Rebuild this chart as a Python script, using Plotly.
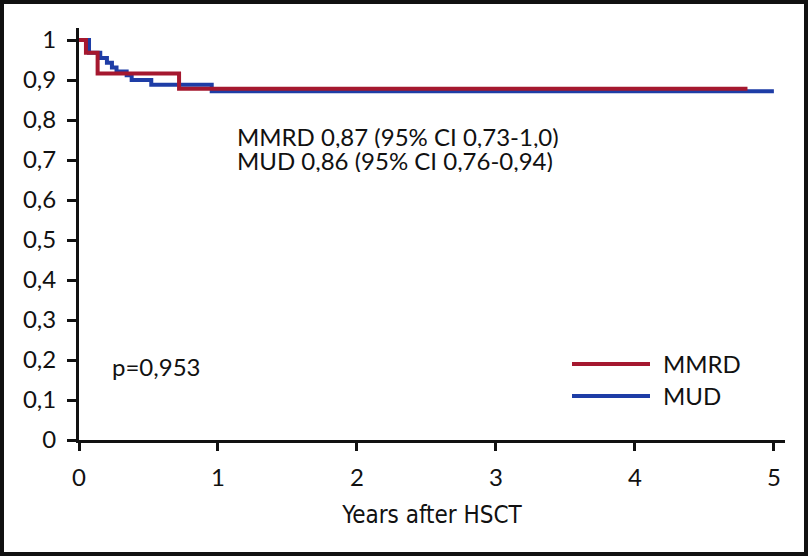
import plotly.graph_objects as go

# Kaplan-Meier style step data (years after HSCT, survival probability)
mmrd_years = [0, 0.05, 0.134, 0.72, 4.81]
mmrd_surv = [1.0, 0.968, 0.916, 0.878, 0.878]

mud_years = [0, 0.072, 0.153, 0.201, 0.237, 0.27, 0.343, 0.379, 0.52, 0.955, 5.0]
mud_surv = [1.0, 0.968, 0.955, 0.943, 0.931, 0.921, 0.912, 0.900, 0.888, 0.872, 0.872]

series_names = ["MMRD", "MUD"]
x_ticks = [0, 1, 2, 3, 4, 5]
y_ticks = [0, 0.1, 0.2, 0.3, 0.4, 0.5, 0.6, 0.7, 0.8, 0.9, 1.0]
y_ticktext = ["0", "0,1", "0,2", "0,3", "0,4", "0,5", "0,6", "0,7", "0,8", "0,9", "1"]
x_title = "Years after HSCT"
annot_lines = ["MMRD 0,87 (95% CI 0,73-1,0)", "MUD 0,86 (95% CI 0,76-0,94)"]
p_text = "p=0,953"

RED = "#A5182F"
BLUE = "#1E3DA6"
FONT = "Lato, Open Sans, sans-serif"
TXT = 24

W, H = 808, 556
ML, MR, MT, MB = 79, 23, 28, 116
PW, PH = W - ML - MR, H - MT - MB

fig = go.Figure()
fig.add_trace(go.Scatter(x=mud_years, y=mud_surv, mode="lines", line_shape="hv",
                         line=dict(color=BLUE, width=4), name=series_names[1], showlegend=False))
fig.add_trace(go.Scatter(x=mmrd_years, y=mmrd_surv, mode="lines", line_shape="hv",
                         line=dict(color=RED, width=4), name=series_names[0], showlegend=False))

def px2x(px):
    return (px - ML) / PW * 5.08

def py2y(py):
    return (H - MB - py) / PH * 1.03

anns = []
anns.append(dict(x=px2x(236), y=py2y(136), text=annot_lines[0], xanchor="left", yanchor="middle",
                 height=24, borderpad=0))
anns.append(dict(x=px2x(236), y=py2y(160), text=annot_lines[1], xanchor="left", yanchor="middle",
                 height=24, borderpad=0))
anns.append(dict(x=px2x(110), y=py2y(366), text=p_text, xanchor="left", yanchor="middle"))
anns.append(dict(x=px2x(661), y=py2y(363), text=series_names[0], xanchor="left", yanchor="middle"))
anns.append(dict(x=px2x(661), y=py2y(395), text=series_names[1], xanchor="left", yanchor="middle"))
for a in anns:
    a.update(xref="x", yref="y", showarrow=False, font=dict(family=FONT, size=TXT, color="#111"))

shapes = [
    dict(type="line", xref="x", yref="y", x0=px2x(572), x1=px2x(650), y0=py2y(364), y1=py2y(364),
         line=dict(color=RED, width=4)),
    dict(type="line", xref="x", yref="y", x0=px2x(572), x1=px2x(650), y0=py2y(396), y1=py2y(396),
         line=dict(color=BLUE, width=4)),
    dict(type="rect", xref="paper", yref="paper",
         x0=(2 - ML) / PW, x1=(806 - ML) / PW, y0=(H - MB - 554) / PH, y1=(H - MB - 2) / PH,
         line=dict(color="#111", width=4), fillcolor="rgba(0,0,0,0)", layer="above"),
]

fig.update_layout(
    width=W, height=H,
    margin=dict(l=ML, r=MR, t=MT, b=MB, pad=0, autoexpand=False),
    paper_bgcolor="white", plot_bgcolor="white",
    showlegend=False,
    annotations=anns, shapes=shapes,
    font=dict(family=FONT, color="#111"),
)
fig.update_xaxes(range=[0, 5.08], tickvals=x_ticks, ticktext=[str(v) for v in x_ticks],
                 automargin=False,
                 showgrid=False, zeroline=False, showline=True, linecolor="#111", linewidth=3,
                 ticks="outside", ticklen=8, tickwidth=3, tickcolor="#111",
                 tickfont=dict(family=FONT, size=TXT, color="#111"), ticklabelstandoff=6,
                 title=dict(text=x_title, font=dict(family="Liberation Sans Narrow, DejaVu Sans Condensed, Open Sans", size=24, color="#111"), standoff=17))
fig.update_yaxes(range=[0, 1.03], tickvals=y_ticks, ticktext=y_ticktext,
                 automargin=False,
                 showgrid=False, zeroline=False, showline=True, linecolor="#111", linewidth=3,
                 ticks="outside", ticklen=9, tickwidth=3, tickcolor="#111",
                 tickfont=dict(family=FONT, size=TXT, color="#111"), ticklabelstandoff=6)

fig.write_html("out.html", config={"displayModeBar": False},
               post_script="document.body.style.margin='0';document.body.style.padding='0';document.body.style.overflow='hidden';")
